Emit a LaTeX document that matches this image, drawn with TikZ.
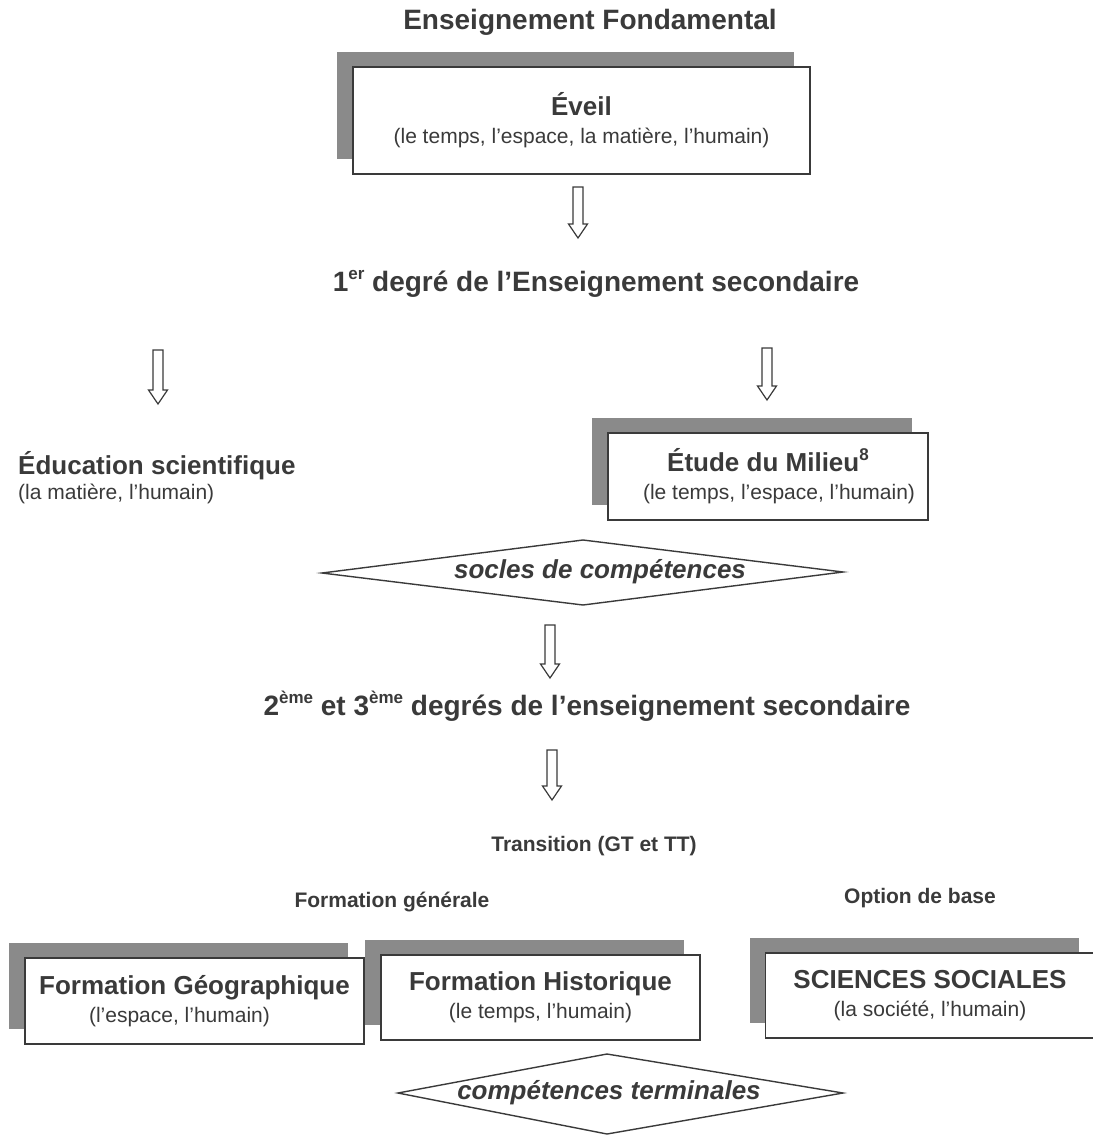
\documentclass[tikz,border=0pt]{standalone}
\usepackage{fontspec}
\setmainfont{Liberation Sans}
\usetikzlibrary{shadows,calc}
\definecolor{ink}{HTML}{3A3A3A}
\definecolor{shade}{HTML}{8A8A8A}
\tikzset{
  sbox/.style={draw=ink, line width=1.4pt, fill=white, text=ink, align=center, inner sep=0pt,
    font=\fontsize{21}{28}\selectfont,
    drop shadow={shadow xshift=-16pt, shadow yshift=15pt, fill=shade, opacity=1}},
  head/.style={text=ink, font=\fontsize{28}{32}\selectfont\bfseries, inner sep=0pt},
  mid/.style={text=ink, font=\fontsize{21}{25}\selectfont\bfseries, inner sep=0pt},
  boxtitle/.style={text=ink, font=\fontsize{26}{30}\selectfont\bfseries, inner sep=0pt},
  boxsub/.style={text=ink, font=\fontsize{21}{25}\selectfont, inner sep=0pt},
  diatext/.style={text=ink, font=\fontsize{26}{30}\selectfont\bfseries\itshape, inner sep=0pt},
  dia/.style={draw=ink, line width=1.4pt, line join=miter},
  hollow/.style={draw=ink, line width=1.2pt, fill=white},
}
\newcommand{\btitle}[1]{{\fontsize{26}{30}\selectfont\bfseries #1}}
\newcommand{\bsub}[1]{{\fontsize{21}{28}\selectfont #1}}
\newcommand{\sups}[1]{\raisebox{0.8ex}{\fontsize{17}{17}\selectfont #1}}
\newcommand{\harrow}[2]{%
  \draw[hollow] ($(#1)+(-5,0)$) -- ($(#1)+(5,0)$) -- ($(#2)+(5,-14)$) -- ($(#2)+(9.5,-14)$)
    -- (#2) -- ($(#2)+(-9.5,-14)$) -- ($(#2)+(-5,-14)$) -- cycle;}
\begin{document}
\begin{tikzpicture}[x=1pt,y=-1pt]
\useasboundingbox (0,0) rectangle (1093,1136);

% headings
\node[head] (fond) at (590,22) {Enseignement Fondamental};
\node[sbox, minimum width=457pt, minimum height=107pt] (eveil) at (581.5,120.5)
  {\btitle{Éveil}\\\bsub{(le temps, l’espace, la matière, l’humain)}};

\coordinate (a1t) at (578,187); \coordinate (a1b) at (578,238);
\harrow{a1t}{a1b}

\node[head] (deg1) at (596,284) {1\sups{er} degré de l’Enseignement secondaire};

\coordinate (a2t) at (158,350); \coordinate (a2b) at (158,404);
\harrow{a2t}{a2b}
\coordinate (a3t) at (767,348); \coordinate (a3b) at (767,400);
\harrow{a3t}{a3b}

\node[boxtitle, anchor=west] (edu) at (18,466) {Éducation scientifique};
\node[boxsub, anchor=west] (edusub) at (18,494) {(la matière, l’humain)};

\node[sbox, minimum width=320pt, minimum height=87pt] (etude) at (768,476.5)
  {\btitle{Étude du Milieu\sups{8}}\\\hspace*{22pt}\bsub{(le temps, l’espace, l’humain)}};

% diamond 1
\node[diatext] (socles) at (600,572) {socles de compétences};
\coordinate (s1l) at (322,573); \coordinate (s1t) at (583,540);
\coordinate (s1r) at (843,572); \coordinate (s1b) at (583,605);
\draw[dia] (s1l) -- (s1t) -- (s1r) -- (s1b) -- cycle;

\coordinate (a4t) at (550,625); \coordinate (a4b) at (550,678);
\harrow{a4t}{a4b}

\node[head] (deg23) at (587,706) {2\sups{ème} et 3\sups{ème} degrés de l’enseignement secondaire};

\coordinate (a5t) at (552,750); \coordinate (a5b) at (552,800);
\harrow{a5t}{a5b}

\node[mid] (trans) at (594,846) {Transition (GT et TT)};
\node[mid] (fgen) at (392,902) {Formation générale};
\node[mid] (opt) at (920,898) {Option de base};

% bottom boxes
\node[sbox, minimum width=339pt, minimum height=86pt] (geo) at (194.5,1001)
  {\btitle{Formation Géographique}\\\hspace*{-30pt}\bsub{(l’espace, l’humain)}};
\node[sbox, minimum width=319pt, minimum height=85pt] (hist) at (540.5,997.5)
  {\btitle{Formation Historique}\\\bsub{(le temps, l’humain)}};
\node[sbox, minimum width=329pt, minimum height=85pt] (soc) at (930,995.5)
  {\btitle{SCIENCES SOCIALES}\\\bsub{(la société, l’humain)}};

% diamond 2
\node[diatext] (term) at (609,1093) {compétences terminales};
\coordinate (s2l) at (398,1093); \coordinate (s2t) at (607,1054);
\coordinate (s2r) at (843,1093); \coordinate (s2b) at (607,1134);
\draw[dia] (s2l) -- (s2t) -- (s2r) -- (s2b) -- cycle;
\end{tikzpicture}
\end{document}
